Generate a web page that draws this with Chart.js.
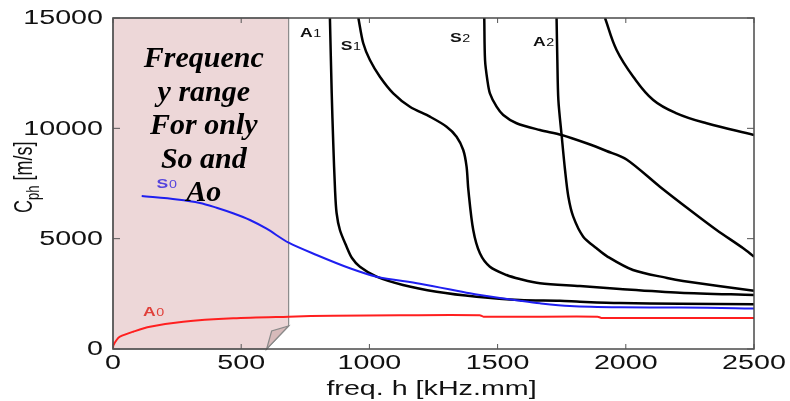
<!DOCTYPE html>
<html>
<head>
<meta charset="utf-8">
<script src="https://cdn.jsdelivr.net/npm/chart.js@4.4.1/dist/chart.umd.min.js"></script>
<style>
html,body{margin:0;padding:0;background:#fff;}
#wrap{width:790px;height:401px;position:relative;}
</style>
</head>
<body>
<div id="wrap"><canvas id="chart"></canvas></div>
<script>
// axis ticks
const xTicks = [0, 500, 1000, 1500, 2000, 2500];
const yTicks = [0, 5000, 10000, 15000];

// dispersion curves, freq. h [kHz.mm] vs phase velocity [m/s]
const a0Freq = [0, 1, 14, 27, 79, 144, 274, 469, 685, 858, 1119, 1430, 1445, 1890, 1905, 2500];
const a0Vel  = [0, 150, 408, 557, 785, 1011, 1238, 1389, 1464, 1510, 1530, 1530, 1465, 1465, 1410, 1410];

const s0Freq = [112, 250, 339, 404, 468, 534, 599, 685, 794, 924, 1028, 1197, 1392, 1431, 1587, 1665, 1782, 1977, 2211, 2426, 2500];
const s0Vel  = [6934, 6780, 6620, 6400, 6150, 5846, 5450, 4817, 4260, 3657, 3277, 2960, 2524, 2447, 2189, 2071, 1949, 1890, 1880, 1844, 1830];

const a1Freq = [846, 853, 859, 866, 872, 885, 911, 932, 963, 1028, 1131, 1262, 1418, 1587, 1743, 1821, 1977, 2211, 2500];
const a1Vel  = [15000, 11602, 9336, 7206, 6164, 5393, 4638, 4124, 3730, 3277, 2900, 2597, 2370, 2221, 2189, 2144, 2080, 2055, 2026];

const s1Freq = [957, 976, 1002, 1041, 1093, 1158, 1236, 1301, 1340, 1366, 1379, 1386, 1405, 1431, 1470, 1535, 1587, 1665, 1821, 1977, 2211, 2500];
const s1Vel  = [15000, 13854, 13097, 12341, 11588, 10981, 10528, 10075, 9622, 9018, 8262, 7206, 5393, 4337, 3730, 3354, 3172, 2978, 2855, 2719, 2552, 2447];

const s2Freq = [1448, 1451, 1460, 1470, 1496, 1522, 1574, 1665, 1750, 1847, 1925, 2003, 2133, 2250, 2354, 2458, 2500];
const s2Vel  = [15000, 13097, 12191, 11588, 10981, 10605, 10229, 9925, 9698, 9322, 8973, 8590, 7355, 6299, 5393, 4564, 4183];

const a2Freq = [1730, 1733, 1737, 1750, 1763, 1776, 1795, 1834, 1886, 1927, 2028, 2161, 2223, 2500];
const a2Vel  = [15000, 13097, 11285, 9653, 8112, 6902, 5996, 5089, 4563, 4200, 3580, 3218, 3082, 2642];

const upperFreq = [1919, 1964, 2029, 2107, 2198, 2315, 2500];
const upperVel  = [15000, 13551, 12341, 11285, 10682, 10229, 9698];

// shaded frequency range and its note
const shadeRange = [0, 685];
const shadeNote = ["Frequenc", "y range", "For only", "So and", "Ao"];

// mode names: letter, index, where the name sits (freq, velocity), colour
const modeNames = [
  ["A", "1", 729, 14140, "#111"],
  ["S", "1", 888, 13550, "#111"],
  ["S", "2", 1314, 13913, "#111"],
  ["A", "2", 1638, 13746, "#111"],
  ["S", "0", 170, 7297, "#5544dd"],
  ["A", "0", 117, 1496, "#e0403a"]
];

function pts(xs, ys){
  return xs.map((x, i) => ({x: x, y: ys[i]}));
}

function curve(xs, ys, color, width, tension){
  return {
    data: pts(xs, ys),
    showLine: true,
    borderColor: color,
    borderWidth: width,
    pointRadius: 0,
    tension: tension
  };
}

const sx = 1.47;

function wideText(ctx, text, x, y, align, baseline, font, color, k){
  ctx.save();
  ctx.font = font;
  ctx.fillStyle = color;
  ctx.textAlign = align;
  ctx.textBaseline = baseline;
  ctx.translate(x, y);
  ctx.scale(k, 1);
  ctx.fillText(text, 0, 0);
  ctx.restore();
}

const drawPlugin = {
  id: "drawPlugin",
  beforeDatasetsDraw(chart){
    const ctx = chart.ctx, a = chart.chartArea, xs = chart.scales.x;
    const L = xs.getPixelForValue(shadeRange[0]);
    const R = xs.getPixelForValue(shadeRange[1]);
    const T = a.top, B = a.bottom;
    ctx.save();
    ctx.beginPath();
    ctx.moveTo(L, T);
    ctx.lineTo(R, T);
    ctx.lineTo(R, B - 23);
    ctx.lineTo(R - 22, B);
    ctx.lineTo(L, B);
    ctx.closePath();
    ctx.fillStyle = "rgb(237,215,216)";
    ctx.fill();
    ctx.strokeStyle = "#8a8a8a";
    ctx.lineWidth = 1.2;
    ctx.stroke();
    // folded corner
    ctx.beginPath();
    ctx.moveTo(R - 22, B);
    ctx.lineTo(R - 17, B - 18);
    ctx.lineTo(R, B - 23);
    ctx.closePath();
    ctx.fillStyle = "rgb(214,186,186)";
    ctx.fill();
    ctx.stroke();
    ctx.restore();
  },
  afterDatasetsDraw(chart){
    const ctx = chart.ctx, a = chart.chartArea;
    const xs = chart.scales.x, ys = chart.scales.y;

    // note inside shaded range
    const L = xs.getPixelForValue(shadeRange[0]);
    const R = xs.getPixelForValue(shadeRange[1]);
    ctx.save();
    ctx.font = 'bold italic 30px "Liberation Serif"';
    ctx.fillStyle = "#000";
    ctx.textAlign = "center";
    ctx.textBaseline = "alphabetic";
    shadeNote.forEach((t, i) => {
      ctx.fillText(t, (L + R) / 2 + 3, a.top + 49 + i * 33.6);
    });
    ctx.restore();

    // mode names
    modeNames.forEach(m => {
      const px = xs.getPixelForValue(m[2]);
      const py = ys.getPixelForValue(m[3]);
      ctx.save();
      ctx.translate(px, py);
      ctx.scale(1.3, 1);
      ctx.fillStyle = m[4];
      ctx.textAlign = "left";
      ctx.textBaseline = "alphabetic";
      ctx.font = 'bold 13.5px "Liberation Sans"';
      ctx.fillText(m[0], 0, 0);
      const w = ctx.measureText(m[0]).width;
      ctx.font = '11px "Liberation Sans"';
      ctx.fillText(m[1], w + 0.5, 0);
      ctx.restore();
    });

    // frame
    ctx.save();
    ctx.strokeStyle = "#4a4a4a";
    ctx.lineWidth = 1.5;
    ctx.strokeRect(a.left, a.top, a.right - a.left, a.bottom - a.top);

    // inward tick marks
    ctx.lineWidth = 1;
    ctx.strokeStyle = "#555";
    ctx.beginPath();
    xs.ticks.forEach(t => {
      const p = xs.getPixelForValue(t.value);
      ctx.moveTo(p, a.bottom); ctx.lineTo(p, a.bottom - 5);
      ctx.moveTo(p, a.top); ctx.lineTo(p, a.top + 5);
    });
    ys.ticks.forEach(t => {
      const p = ys.getPixelForValue(t.value);
      ctx.moveTo(a.left, p); ctx.lineTo(a.left + 7, p);
      ctx.moveTo(a.right, p); ctx.lineTo(a.right - 7, p);
    });
    ctx.stroke();
    ctx.restore();

    // tick labels
    const tickFont = '19.5px "Liberation Sans"';
    xs.ticks.forEach(t => {
      wideText(ctx, String(t.value), xs.getPixelForValue(t.value), a.bottom + 15, "center", "middle", tickFont, "#111", sx);
    });
    ys.ticks.forEach(t => {
      wideText(ctx, String(t.value), a.left - 10, ys.getPixelForValue(t.value) + 1, "right", "middle", tickFont, "#111", sx);
    });

    // axis titles
    wideText(ctx, "freq. h [kHz.mm]", (a.left + a.right) / 2 - 2, 395, "center", "alphabetic", tickFont, "#111", sx);

    ctx.save();
    ctx.translate(32, 213);
    ctx.scale(sx, 1);
    ctx.rotate(-Math.PI / 2);
    ctx.fillStyle = "#111";
    ctx.textAlign = "left";
    ctx.textBaseline = "alphabetic";
    ctx.font = '18px "Liberation Sans"';
    ctx.fillText("C", 0, 0);
    let w = ctx.measureText("C").width;
    ctx.font = '13px "Liberation Sans"';
    ctx.fillText("ph", w, 5);
    w += ctx.measureText("ph").width;
    ctx.font = '18px "Liberation Sans"';
    ctx.fillText(" [m/s]", w, 0);
    ctx.restore();
  }
};

new Chart(document.getElementById("chart"), {
  type: "scatter",
  data: {
    datasets: [
      curve(a0Freq, a0Vel, "#ff1f1f", 2, 0.3),
      curve(s0Freq, s0Vel, "#1f1ff0", 2, 0.3),
      curve(a1Freq, a1Vel, "#000", 2.5, 0.3),
      curve(s1Freq, s1Vel, "#000", 2.5, 0.3),
      curve(s2Freq, s2Vel, "#000", 2.5, 0.3),
      curve(a2Freq, a2Vel, "#000", 2.5, 0.3),
      curve(upperFreq, upperVel, "#000", 2.5, 0.4)
    ]
  },
  options: {
    responsive: true,
    maintainAspectRatio: false,
    animation: false,
    layout: {padding: {left: 113, right: 36, top: 18, bottom: 52}},
    plugins: {legend: {display: false}, tooltip: {enabled: false}},
    scales: {
      x: {
        type: "linear",
        min: xTicks[0],
        max: xTicks[xTicks.length - 1],
        ticks: {display: false, stepSize: xTicks[1] - xTicks[0]},
        grid: {display: false},
        border: {display: false},
        afterFit: s => { s.height = 0; }
      },
      y: {
        type: "linear",
        min: yTicks[0],
        max: yTicks[yTicks.length - 1],
        ticks: {display: false, stepSize: yTicks[1] - yTicks[0]},
        grid: {display: false},
        border: {display: false},
        afterFit: s => { s.width = 0; }
      }
    }
  },
  plugins: [drawPlugin]
});
</script>
</body>
</html>
